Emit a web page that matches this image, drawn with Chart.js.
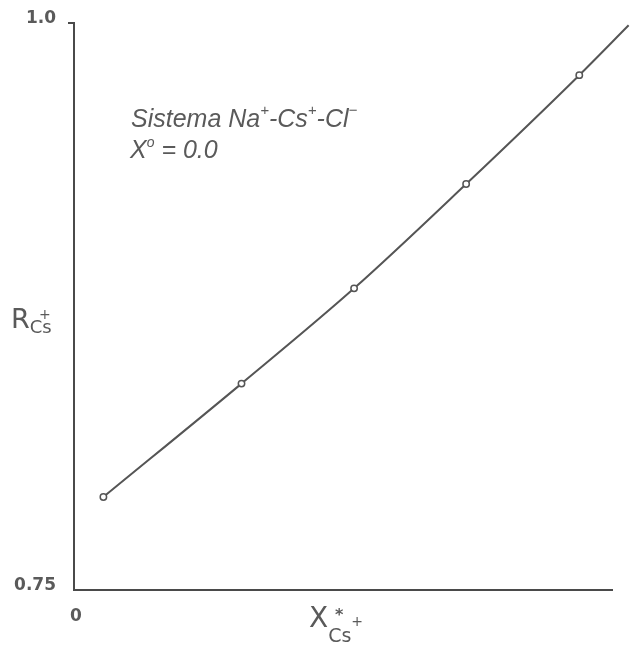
<!DOCTYPE html>
<html>
<head>
<meta charset="utf-8">
<script src="https://cdn.jsdelivr.net/npm/chart.js@4/dist/chart.umd.min.js"></script>
<style>
  html, body { margin: 0; padding: 0; background: #ffffff; }
  #wrap { width: 632px; height: 648px; }
</style>
</head>
<body>
<div id="wrap"><canvas id="c" width="632" height="648"></canvas></div>
<script>
// Mole fraction of Cs+ in the exchanger phase and the corresponding R values
const xCs = [0.053, 0.302, 0.505, 0.707, 0.911, 1.0];
const rCs = [0.791, 0.841, 0.883, 0.929, 0.977, 0.999];

// Axis ranges and the labelled ticks
const xRange = [0, 0.97];
const yRange = [0.75, 1.0];
const xTickValues = [0];
const xTickLabels = ['0'];
const yTickValues = [0.75, 1.0];
const yTickLabels = ['0.75', '1.0'];

const INK = '#4a4a4a';
const LABEL_INK = '#5a5a5a';

// Draws a run of text pieces with sub/superscript offsets;
// a piece marked "over" is stacked above the end of the previous piece
function drawRich(ctx, x, y, parts, family, style) {
  let cx = x;
  let lastW = 0;
  parts.forEach(p => {
    ctx.font = `${style} ${p.size}px ${family}`;
    const w = ctx.measureText(p.t).width;
    if (p.over) {
      ctx.fillText(p.t, cx - w - 1, y + (p.dy || 0));
    } else {
      ctx.fillText(p.t, cx, y + (p.dy || 0));
      cx += w;
      lastW = w;
    }
  });
}

const annotations = {
  id: 'annotations',
  afterDraw(chart) {
    const ctx = chart.ctx;
    ctx.save();
    ctx.fillStyle = LABEL_INK;
    ctx.textBaseline = 'alphabetic';
    ctx.textAlign = 'left';
    const fam = '"Liberation Sans", sans-serif';

    // System description
    drawRich(ctx, 131, 127, [
      { t: 'Sistema Na', size: 25 },
      { t: '+', size: 15, dy: -12 },
      { t: '-Cs', size: 25 },
      { t: '+', size: 15, dy: -12 },
      { t: '-Cl', size: 25 },
      { t: '\u2212', size: 15, dy: -12 }
    ], fam, 'italic');
    drawRich(ctx, 130, 158, [
      { t: 'X', size: 25 },
      { t: 'o', size: 14, dy: -11 },
      { t: ' = 0.0', size: 25 }
    ], fam, 'italic');

    // Axis titles
    drawRich(ctx, 11, 328, [
      { t: 'R', size: 27 },
      { t: 'Cs', size: 18, dy: 5 },
      { t: '+', size: 14, dy: -9, over: true }
    ], '"DejaVu Sans", sans-serif', 'normal');
    drawRich(ctx, 309, 627, [
      { t: 'X', size: 28 },
      { t: 'Cs', size: 19, dy: 15 },
      { t: '+', size: 14, dy: -1 }
    ], '"DejaVu Sans", sans-serif', 'normal');
    ctx.font = 'bold 16px "DejaVu Sans", sans-serif';
    ctx.fillText('*', 335, 620);
    ctx.restore();
  }
};

new Chart(document.getElementById('c'), {
  type: 'scatter',
  data: {
    datasets: [{
      data: xCs.map((x, i) => ({ x, y: rCs[i] })),
      showLine: true,
      borderColor: '#555555',
      borderWidth: 2,
      cubicInterpolationMode: 'monotone',
      pointRadius: 3.2,
      pointBackgroundColor: '#ffffff',
      pointBorderColor: '#555555',
      pointBorderWidth: 1.5,
      clip: false
    }]
  },
  options: {
    responsive: false,
    animation: false,
    devicePixelRatio: 1,
    layout: { padding: { top: 23, right: 20, left: 0, bottom: 0 } },
    plugins: { legend: { display: false }, tooltip: { enabled: false } },
    scales: {
      x: {
        type: 'linear',
        min: xRange[0],
        max: xRange[1],
        afterBuildTicks: s => { s.ticks = xTickValues.map(v => ({ value: v })); },
        afterFit: s => { s.height = 58; },
        ticks: {
          callback: (v) => xTickLabels[xTickValues.indexOf(v)] ?? '',
          color: LABEL_INK,
          font: { family: '"DejaVu Sans", sans-serif', size: 17, weight: 'bold' },
          padding: 8,
          labelOffset: 2,
          maxRotation: 0
        },
        grid: { display: false },
        border: { display: true, color: INK, width: 2 }
      },
      y: {
        type: 'linear',
        min: yRange[0],
        max: yRange[1],
        afterBuildTicks: s => { s.ticks = yTickValues.map(v => ({ value: v })); },
        afterFit: s => { s.width = 74; },
        ticks: {
          callback: (v) => yTickLabels[yTickValues.indexOf(v)] ?? '',
          color: LABEL_INK,
          font: { family: '"DejaVu Sans", sans-serif', size: 17, weight: 'bold' },
          padding: 12,
          labelOffset: -4
        },
        grid: {
          display: true,
          drawOnChartArea: false,
          drawTicks: true,
          tickLength: 6,
          lineWidth: 2,
          color: ctx => (ctx.tick && ctx.tick.value === 1.0 ? INK : 'rgba(0,0,0,0)')
        },
        border: { display: true, color: INK, width: 2 }
      }
    }
  },
  plugins: [annotations]
});
</script>
</body>
</html>
